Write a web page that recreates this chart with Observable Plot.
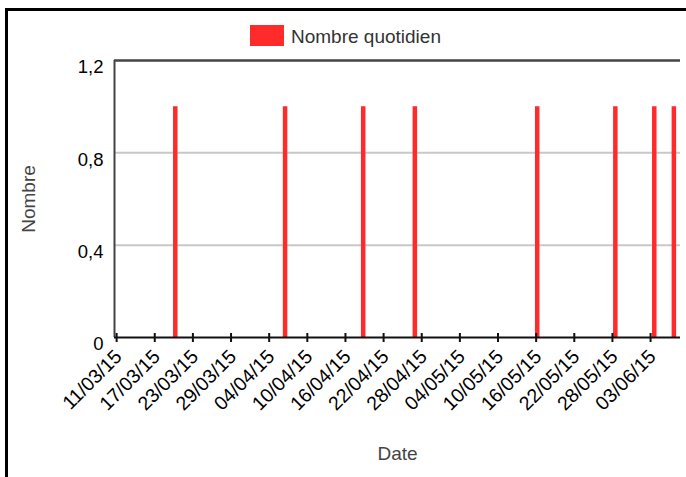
<!DOCTYPE html>
<html><head><meta charset="utf-8">
<script src="https://cdn.jsdelivr.net/npm/d3@7"></script>
<script src="https://cdn.jsdelivr.net/npm/@observablehq/plot@0.6"></script>
<style>
html,body{margin:0;padding:0;background:#fff;overflow:hidden}
#wrap{position:relative;width:686px;height:477px;font-family:"Liberation Sans",Arial,sans-serif}
#frame{position:absolute;left:5px;top:8px;width:800px;height:600px;border-left:3px solid #000;border-top:3px solid #000;pointer-events:none}
#legend{position:relative;height:50px}
#legend .sw{position:absolute;left:250px;top:25px;width:34px;height:21px;background:#ff2a2a}
#legend .tx{position:absolute;left:291px;top:26px;line-height:22px;font-size:19px;color:#333}
#chart svg{display:block}
</style></head><body>
<div id="wrap"><div id="frame"></div><div id="legend"><div class="sw"></div><div class="tx" id="legtext"></div></div><div id="chart"></div></div>
<script>
const eventDates = ["2015-03-20T05:30Z", "2015-04-06T12:00Z", "2015-04-18T19:00Z", "2015-04-26T22:00Z", "2015-05-16T04:00Z", "2015-05-28T11:00Z", "2015-06-03T14:00Z", "2015-06-06T16:00Z"];
const dailyCounts = [1, 1, 1, 1, 1, 1, 1, 1];
const tickDates = ["2015-03-11", "2015-03-17", "2015-03-23", "2015-03-29", "2015-04-04", "2015-04-10", "2015-04-16", "2015-04-22", "2015-04-28", "2015-05-04", "2015-05-10", "2015-05-16", "2015-05-22", "2015-05-28", "2015-06-03"];
const yTicks = [0, 0.4, 0.8, 1.2];
const gridValues = [0.4, 0.8];
const xDomain = ["2015-03-10T16:00Z", "2015-06-07T17:00Z"];
const yDomain = [0, 1.2];
const seriesName = "Nombre quotidien";
const xLabel = "Date";
const yLabel = "Nombre";

document.getElementById("legtext").textContent = seriesName;
const data = eventDates.map((d, i) => ({date: new Date(d), count: dailyCounts[i]}));
const ticks = tickDates.map(d => new Date(d + "T00:00Z"));
const fmt = d3.utcFormat("%d/%m/%y");
const plot = Plot.plot({
  width: 686, height: 427,
  marginLeft: 114, marginRight: 6, marginTop: 10, marginBottom: 140,
  style: {fontFamily: "Liberation Sans, Arial, sans-serif", background: "transparent", overflow: "visible"},
  x: {type: "utc", domain: xDomain.map(d => new Date(d))},
  y: {domain: yDomain},
  marks: [
    Plot.ruleY(gridValues, {stroke: "#c8c8c8", strokeWidth: 2}),
    Plot.ruleY([yDomain[1]], {stroke: "#444", strokeWidth: 2.5}),
    Plot.ruleX([new Date(xDomain[0])], {stroke: "#444", strokeWidth: 2}),
    Plot.ruleX(data, {x: "date", y1: 0, y2: "count", stroke: "#ff2a2a", strokeWidth: 4.5}),
    Plot.ruleY([0], {stroke: "#111", strokeWidth: 2}),
    Plot.ruleX(ticks, {y1: 0, y2: 0, insetTop: -4, insetBottom: -5, stroke: "#111", strokeWidth: 2}),
    Plot.axisX(ticks, {tickSize: 0, tickRotate: -45, tickPadding: 16, dx: 2, tickFormat: fmt, fontSize: 19.5, fill: "#000", label: null}),
    Plot.axisY(yTicks, {tickSize: 0, tickPadding: 11, dy: 7, tickFormat: v => String(v).replace(".", ","), fontSize: 18.5, fill: "#000", label: null}),
    Plot.text([xLabel], {text: d => d, frameAnchor: "bottom", lineAnchor: "middle", textAnchor: "middle", dy: 116, fontSize: 19, fill: "#444"}),
    Plot.text([yLabel], {text: d => d, frameAnchor: "left", lineAnchor: "middle", textAnchor: "middle", rotate: -90, dx: -86, fontSize: 19, fill: "#444"})
  ]
});
document.getElementById("chart").appendChild(plot);
</script>
</body></html>
